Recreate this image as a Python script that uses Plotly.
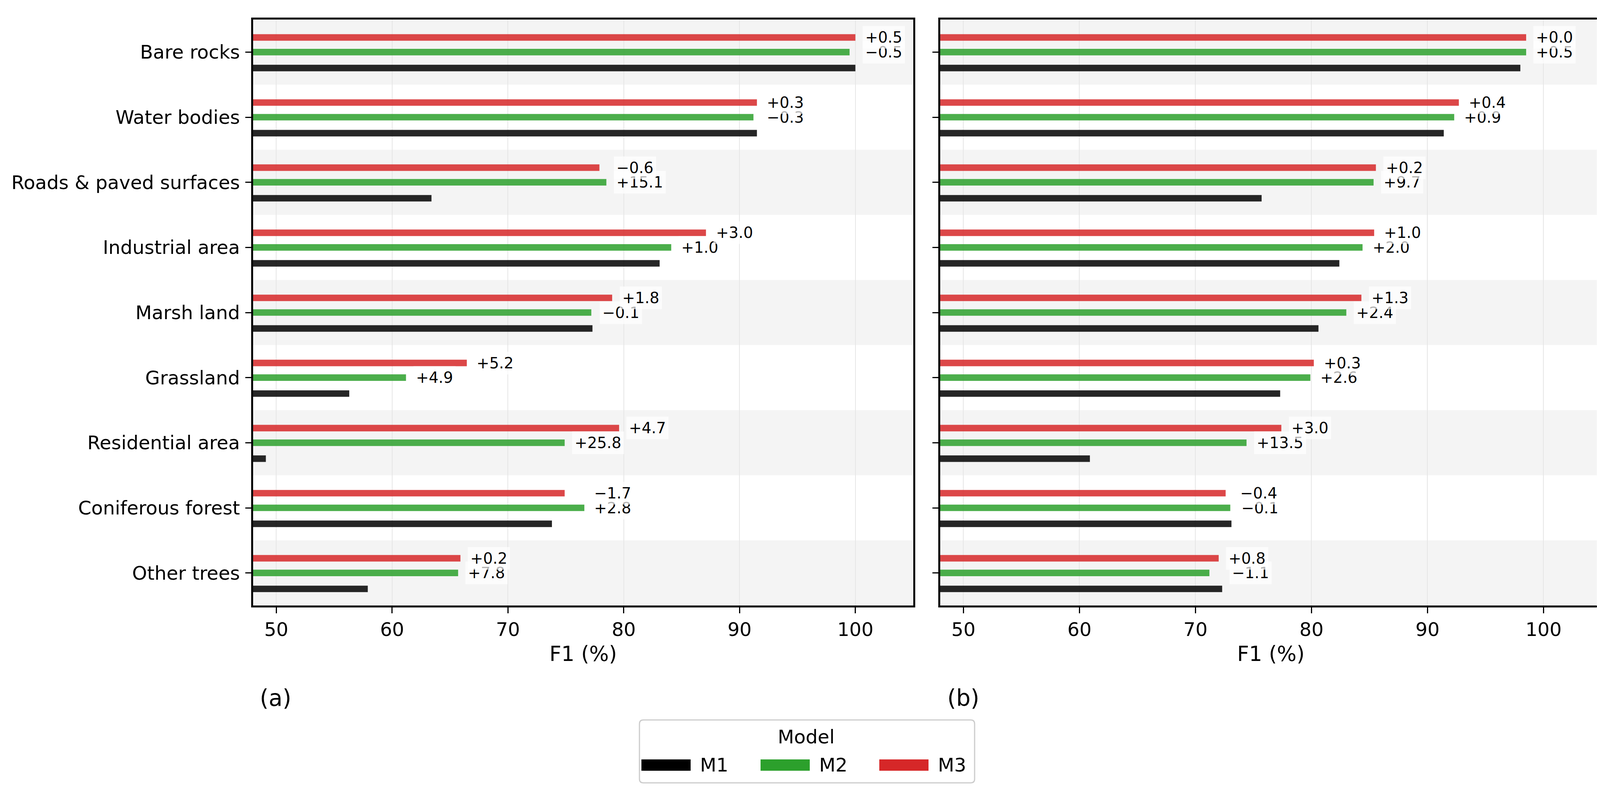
import plotly.graph_objects as go

# ---------------- data ----------------
categories = ["Bare rocks", "Water bodies", "Roads & paved surfaces", "Industrial area",
              "Marsh land", "Grassland", "Residential area", "Coniferous forest", "Other trees"]
models = ["M1", "M2", "M3"]

a_m1 = [100.0, 91.5, 63.4, 83.1, 77.3, 56.3, 49.1, 73.8, 57.9]
a_m2 = [99.5, 91.2, 78.5, 84.1, 77.2, 61.2, 74.9, 76.6, 65.7]
a_m3 = [100.0, 91.5, 77.9, 87.1, 79.0, 66.45, 79.6, 74.9, 65.9]
a_d2 = [-0.5, -0.3, 15.1, 1.0, -0.1, 4.9, 25.8, 2.8, 7.8]
a_d3 = [0.5, 0.3, -0.6, 3.0, 1.8, 5.2, 4.7, -1.7, 0.2]

b_m1 = [98.0, 91.4, 75.7, 82.4, 80.6, 77.3, 60.9, 73.1, 72.3]
b_m2 = [98.5, 92.3, 85.35, 84.4, 83.0, 79.9, 74.4, 73.0, 71.2]
b_m3 = [98.5, 92.7, 85.55, 85.4, 84.3, 80.2, 77.4, 72.6, 72.0]
b_d2 = [0.5, 0.9, 9.7, 2.0, 2.4, 2.6, 13.5, -0.1, -1.1]
b_d3 = [0.0, 0.4, 0.2, 1.0, 1.3, 0.3, 3.0, -0.4, 0.8]

x_ticks = [50, 60, 70, 80, 90, 100]
x_range = [48, 105]

# ---------------- style ----------------
W, H = 4128, 2030
FONT = "DejaVu Sans"
base_colors = {"M1": "#000000", "M2": "#2ca02c", "M3": "#d62728"}
offsets = {"M1": 0.245, "M2": 0.0, "M3": -0.225}
BAR_H = 0.1
LABEL_OFF = 0.62
TICK_FS = 48.5
LABEL_FS = 39


def px(x):
    return x / W


def py(y):
    return 1 - y / H


def fmt(d):
    return f"{d:+.1f}".replace("-", "\u2212")


fig = go.Figure()
n = len(categories)
panels = [
    ("x", "y", a_m1, a_m2, a_m3, a_d2, a_d3),
    ("x2", "y2", b_m1, b_m2, b_m3, b_d2, b_d3),
]
annotations = []
shapes = []

for xa, ya, m1, m2, m3, d2, d3 in panels:
    series = {"M1": m1, "M2": m2, "M3": m3}
    for name in models:
        fig.add_trace(go.Bar(
            x=series[name],
            y=[i + offsets[name] for i in range(n)],
            orientation="h", width=BAR_H, name=name,
            marker=dict(color=base_colors[name], opacity=0.85, line=dict(width=0)),
            xaxis=xa, yaxis=ya, showlegend=False,
        ))
    for i in range(n):
        for val_x, val_y, d in ((max(m1[i], m2[i]), i + offsets["M2"], d2[i]),
                                (max(m2[i], m3[i]), i + offsets["M3"], d3[i])):
            annotations.append(dict(
                x=val_x + LABEL_OFF, y=val_y, xref=xa, yref=ya, text=fmt(d),
                showarrow=False, xanchor="left", yanchor="middle",
                font=dict(size=LABEL_FS, color="black", family=FONT),
                bgcolor="rgba(255,255,255,0.7)", borderpad=6,
            ))
    # alternating background bands
    for i in range(0, n, 2):
        shapes.append(dict(type="rect", xref=f"{xa} domain", yref=ya, x0=0, x1=1,
                           y0=i - 0.5, y1=i + 0.5, fillcolor="#f4f4f4",
                           line=dict(width=0), layer="below"))

common_x = dict(range=x_range, tickvals=x_ticks, ticks="outside", ticklen=15, tickwidth=3,
                tickcolor="black", showline=True, linewidth=5, linecolor="black", mirror=True,
                showgrid=True, gridcolor="#e6e6e6", gridwidth=2, zeroline=False,
                tickfont=dict(size=TICK_FS, family=FONT, color="black"),
                title=dict(text="F1 (%)", font=dict(size=53, family=FONT, color="black"), standoff=18),
                automargin=False)
common_y = dict(range=[n - 0.5, -0.5], tickvals=list(range(n)), ticktext=categories,
                ticks="outside", ticklen=15, tickwidth=3, tickcolor="black",
                showline=True, linewidth=5, linecolor="black", mirror=True,
                showgrid=False, zeroline=False,
                tickfont=dict(size=TICK_FS, family=FONT, color="black"), automargin=False)

y_dom = [py(1542), py(42)]
fig.update_layout(
    width=W, height=H, margin=dict(l=0, r=0, t=0, b=0),
    paper_bgcolor="white", plot_bgcolor="white",
    font=dict(family=FONT, color="black"),
    barmode="overlay", showlegend=False,
    xaxis=dict(domain=[px(640), px(2330)], anchor="y", **common_x),
    yaxis=dict(domain=y_dom, anchor="x", ticklabelstandoff=4, **common_y),
    xaxis2=dict(domain=[px(2399), px(4092)], anchor="y2", **common_x),
    yaxis2=dict(domain=y_dom, anchor="x2", showticklabels=False, **common_y),
)

# panel labels
for lab, lx in (("(a)", 655), ("(b)", 2415)):
    annotations.append(dict(x=px(lx), y=py(1779), xref="paper", yref="paper", text=lab,
                            showarrow=False, xanchor="left", yanchor="middle",
                            font=dict(size=58, family=FONT, color="black")))

# manual legend
lx0, lx1, ly0, ly1 = px(1629), px(2487), py(1996), py(1835)
rx, ry = 10 / W, 10 / H
path = (f"M{lx0+rx},{ly1} L{lx1-rx},{ly1} Q{lx1},{ly1} {lx1},{ly1-ry} L{lx1},{ly0+ry} "
        f"Q{lx1},{ly0} {lx1-rx},{ly0} L{lx0+rx},{ly0} Q{lx0},{ly0} {lx0},{ly0+ry} "
        f"L{lx0},{ly1-ry} Q{lx0},{ly1} {lx0+rx},{ly1} Z")
shapes.append(dict(type="path", path=path, xref="paper", yref="paper",
                   fillcolor="white", line=dict(color="#cccccc", width=3), layer="above"))
annotations.append(dict(x=px(2056), y=py(1878), xref="paper", yref="paper", text="Model",
                        showarrow=False, xanchor="center", yanchor="middle",
                        font=dict(size=TICK_FS, family=FONT, color="black")))
sw_left = [1634, 1939, 2243]
for k, name in enumerate(models):
    x0 = sw_left[k]
    shapes.append(dict(type="rect", xref="paper", yref="paper", x0=px(x0), x1=px(x0 + 126),
                       y0=py(1965), y1=py(1936), fillcolor=base_colors[name],
                       line=dict(width=0), layer="above"))
    annotations.append(dict(x=px(x0 + 148), y=py(1950), xref="paper", yref="paper", text=name,
                            showarrow=False, xanchor="left", yanchor="middle",
                            font=dict(size=TICK_FS, family=FONT, color="black")))

fig.update_layout(annotations=annotations, shapes=shapes)
fig.write_html("out.html")
